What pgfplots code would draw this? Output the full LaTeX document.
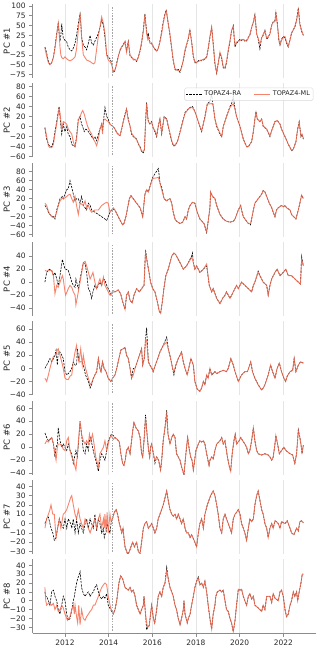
\documentclass[border=0pt]{standalone}
\usepackage{fontspec}
\setmainfont{DejaVu Sans}
\usepackage{pgfplots}
\usepackage{pgfplotstable}
\pgfplotsset{compat=1.18}

\definecolor{mlcol}{RGB}{246,110,84}
\definecolor{spine}{gray}{0.55}

% one table per principal component: time, reanalysis, ML
\pgfplotstableread{
t ra ml
2011.08 -5 -8
2011.16 -20 -28
2011.24 -42 -45
2011.31 -50 -50
2011.39 -45 -45
2011.47 -30 -32
2011.54 -5 -8
2011.62 30 25
2011.69 55 56
2011.73 30 35
2011.77 10 -5
2011.81 25 -25
2011.85 55 -32
2011.92 18 -35
2012.00 12 -30
2012.08 8 -35
2012.15 -5 -38
2012.23 -12 -40
2012.31 -15 -38
2012.38 -8 -35
2012.46 5 -30
2012.53 25 -10
2012.61 55 40
2012.69 80 80
2012.73 50 55
2012.76 20 20
2012.84 0 -25
2012.92 -5 -32
2012.99 -12 -38
2013.07 5 -40
2013.15 25 -42
2013.22 5 -45
2013.30 0 -48
2013.37 10 -45
2013.45 20 -10
2013.53 30 25
2013.60 45 45
2013.68 65 72
2013.76 50 55
2013.83 20 30
2013.91 -25 -25
2013.98 -30 -38
2014.06 -35 -42
2014.14 -45 -50
2014.21 -70 -68
2014.29 -65 -63
2014.37 -45 -48
2014.44 -28 -30
2014.52 -15 -12
2014.60 -5 -3
2014.67 2 0
2014.75 10 8
2014.82 -15 -18
2014.90 10 8
2014.98 -28 -25
2015.05 -32 -30
2015.13 -35 -38
2015.21 -38 -36
2015.28 -42 -40
2015.36 -30 -32
2015.44 -15 -12
2015.51 5 8
2015.59 40 35
2015.66 80 78
2015.74 35 30
2015.79 20 15
2015.82 28 20
2015.89 8 5
2015.97 5 3
2016.05 -5 -3
2016.12 -10 -12
2016.20 -15 -15
2016.27 -10 -8
2016.35 10 8
2016.43 35 30
2016.50 60 55
2016.58 80 78
2016.64 90 88
2016.73 55 55
2016.81 25 28
2016.89 -10 -8
2016.96 -40 -38
2017.04 -62 -60
2017.11 -65 -63
2017.19 -62 -65
2017.27 -70 -66
2017.34 -55 -58
2017.42 -40 -38
2017.50 -15 -12
2017.57 0 2
2017.65 15 18
2017.72 40 38
2017.80 10 8
2017.88 -30 -28
2017.95 -45 -42
2018.03 -45 -44
2018.11 -40 -42
2018.18 -38 -40
2018.26 -40 -38
2018.34 -38 -36
2018.41 -35 -35
2018.49 -30 -32
2018.56 -10 -8
2018.64 20 22
2018.72 45 46
2018.79 5 2
2018.87 -50 -45
2018.95 -72 -70
2019.02 -45 -48
2019.10 -20 -18
2019.18 -35 -32
2019.25 -58 -55
2019.33 -60 -58
2019.40 -45 -42
2019.48 -15 -12
2019.56 10 12
2019.63 35 38
2019.71 50 48
2019.75 20 22
2019.79 -5 0
2019.86 5 8
2019.94 10 10
2020.02 15 12
2020.09 12 14
2020.17 15 15
2020.24 10 12
2020.32 12 10
2020.40 20 18
2020.47 25 28
2020.55 45 45
2020.63 60 58
2020.70 78 75
2020.78 30 28
2020.85 15 18
2020.93 -10 2
2021.01 20 18
2021.08 25 28
2021.16 38 35
2021.24 15 18
2021.31 20 22
2021.39 30 28
2021.47 50 52
2021.54 60 58
2021.62 62 60
2021.66 85 82
2021.73 55 52
2021.80 10 15
2021.85 0 2
2021.92 15 12
2022.00 22 20
2022.08 18 22
2022.15 5 8
2022.23 -5 -2
2022.31 15 12
2022.38 30 32
2022.46 40 38
2022.53 45 48
2022.61 65 62
2022.69 95 90
2022.76 55 52
2022.84 35 38
2022.92 25 25
}\pcone

\pgfplotstableread{
t ra ml
2011.08 -3 -1
2011.16 -25 -20
2011.24 -35 -38
2011.31 -40 -42
2011.39 -40 -42
2011.47 -30 -35
2011.54 -10 -15
2011.62 10 5
2011.69 30 25
2011.73 40 35
2011.77 20 28
2011.85 -15 -5
2011.92 5 10
2012.00 -10 8
2012.08 0 5
2012.15 -15 -5
2012.23 -20 -10
2012.31 -35 -15
2012.38 -38 -30
2012.46 -40 -40
2012.53 -20 -25
2012.61 15 12
2012.69 20 20
2012.76 5 28
2012.81 0 32
2012.88 -10 25
2012.96 -5 12
2013.04 -8 0
2013.15 -15 -10
2013.22 -20 -15
2013.30 -25 -25
2013.37 -20 -30
2013.45 -28 -38
2013.53 -15 -25
2013.60 -5 -5
2013.68 5 5
2013.72 -10 -15
2013.76 10 12
2013.83 38 15
2013.91 20 12
2013.98 15 10
2014.06 5 5
2014.14 2 2
2014.21 0 0
2014.29 -5 -5
2014.37 -12 -12
2014.44 -15 -16
2014.52 -18 -18
2014.60 -5 -3
2014.67 10 10
2014.75 25 22
2014.82 35 35
2014.90 15 12
2014.98 0 2
2015.05 -15 -13
2015.13 -20 -18
2015.21 -22 -23
2015.28 -25 -26
2015.36 -35 -33
2015.44 -40 -42
2015.51 -50 -48
2015.59 -52 -50
2015.64 -45 -45
2015.69 10 5
2015.74 48 45
2015.79 20 18
2015.82 10 10
2015.89 5 6
2015.97 10 8
2016.05 -5 -3
2016.12 -10 -8
2016.20 -20 -18
2016.27 0 0
2016.35 15 15
2016.43 -15 -12
2016.54 20 18
2016.66 15 15
2016.73 0 2
2016.81 -15 -13
2016.89 -30 -28
2016.96 -38 -36
2017.04 -38 -37
2017.15 -30 -30
2017.27 -10 -12
2017.42 15 14
2017.50 28 26
2017.65 35 35
2017.73 38 37
2017.84 40 38
2017.95 30 30
2018.03 20 20
2018.18 0 0
2018.26 -10 -8
2018.41 20 18
2018.52 45 45
2018.64 50 45
2018.72 65 46
2018.79 40 42
2018.87 15 15
2018.95 0 2
2019.10 -15 -13
2019.18 -20 -20
2019.25 0 0
2019.40 20 20
2019.56 40 38
2019.63 45 42
2019.71 60 45
2019.79 35 35
2019.86 20 20
2020.02 0 0
2020.17 -25 -25
2020.32 -40 -40
2020.40 -40 -40
2020.55 -30 -30
2020.63 -10 -10
2020.70 15 15
2020.75 30 28
2020.81 15 15
2020.93 10 10
2021.01 15 15
2021.08 0 2
2021.24 -5 -5
2021.39 -20 -18
2021.47 -8 -8
2021.62 10 10
2021.73 12 12
2021.85 5 5
2021.92 -5 -5
2022.08 -20 -20
2022.23 -35 -35
2022.38 -48 -47
2022.46 -45 -45
2022.58 -30 -30
2022.66 -5 -5
2022.73 10 8
2022.81 -20 -18
2022.86 -15 -15
2022.92 -25 -23
}\pctwo

\pgfplotstableread{
t ra ml
2011.08 5 10
2011.16 0 5
2011.24 -10 -8
2011.31 -15 -15
2011.39 -18 -20
2011.47 -20 -22
2011.54 -25 -20
2011.62 -5 -10
2011.69 5 5
2011.77 20 15
2011.88 25 22
2011.92 20 20
2012.00 30 22
2012.08 40 25
2012.15 42 28
2012.23 60 30
2012.31 45 20
2012.38 30 12
2012.46 15 25
2012.53 20 5
2012.61 20 -15
2012.69 10 10
2012.76 25 8
2012.84 5 5
2012.92 0 15
2012.99 -5 0
2013.07 10 5
2013.15 5 -5
2013.22 -5 -10
2013.37 -10 -5
2013.53 -15 -5
2013.68 -20 5
2013.83 -25 10
2013.91 -28 12
2013.98 -20 10
2014.06 -10 -10
2014.14 -5 -5
2014.21 -3 0
2014.29 -5 -5
2014.44 -20 -20
2014.55 -30 -30
2014.64 -38 -38
2014.70 -35 -35
2014.79 -20 -20
2014.85 -5 -5
2014.95 20 20
2015.02 27 26
2015.13 20 20
2015.28 10 10
2015.44 0 0
2015.56 -20 -20
2015.66 30 28
2015.74 40 40
2015.82 35 35
2015.88 45 45
2016.00 65 63
2016.05 70 65
2016.28 87 67
2016.35 55 55
2016.43 45 40
2016.54 20 20
2016.66 15 15
2016.73 18 18
2016.81 20 20
2016.89 10 10
2016.96 -10 -10
2017.04 -25 -25
2017.11 -30 -30
2017.27 -35 -35
2017.39 -32 -32
2017.50 -20 -20
2017.57 -25 -25
2017.65 -5 -5
2017.73 5 5
2017.84 12 12
2017.95 10 10
2018.06 -10 -10
2018.18 -25 -25
2018.37 -35 -35
2018.46 -50 -50
2018.49 -55 -53
2018.56 -30 -30
2018.64 0 0
2018.67 35 35
2018.76 25 25
2018.87 20 20
2018.95 5 5
2019.10 -15 -15
2019.25 -25 -25
2019.40 -30 -30
2019.56 -32 -32
2019.71 -30 -30
2019.79 -25 -25
2019.94 -5 -5
2020.05 5 5
2020.09 -5 -5
2020.17 -20 -20
2020.32 -30 -30
2020.40 -35 -35
2020.50 -38 -35
2020.55 -25 -25
2020.63 -5 -5
2020.70 10 10
2020.85 20 20
2021.01 30 30
2021.08 38 38
2021.16 35 35
2021.24 25 25
2021.36 10 10
2021.47 0 0
2021.54 -10 -10
2021.62 -20 -20
2021.69 -5 -5
2021.77 0 0
2021.92 5 5
2022.00 2 2
2022.08 5 5
2022.15 0 0
2022.31 -5 -5
2022.38 -15 -15
2022.58 -25 -25
2022.69 -5 -5
2022.76 10 10
2022.84 28 28
2022.92 20 20
}\pcthree

\pgfplotstableread{
t ra ml
2011.08 0 18
2011.16 15 17
2011.28 20 18
2011.39 18 18
2011.47 10 10
2011.54 15 -18
2011.62 5 -5
2011.69 -5 -8
2011.77 10 0
2011.88 35 10
2011.92 30 5
2012.00 20 -15
2012.03 20 -20
2012.15 18 -10
2012.23 10 -5
2012.31 0 -8
2012.38 -5 -15
2012.46 -8 -20
2012.50 5 -35
2012.61 -10 -15
2012.69 5 0
2012.84 30 30
2012.92 28 32
2012.99 15 25
2013.07 -10 15
2013.15 -15 5
2013.22 -25 10
2013.28 -15 15
2013.37 -5 0
2013.45 -10 -10
2013.60 0 5
2013.68 -5 -5
2013.76 5 8
2013.83 3 -5
2013.91 -5 -10
2013.98 -10 -15
2014.06 -15 -20
2014.11 -20 -18
2014.21 -15 -13
2014.29 -15 -15
2014.44 -12 -12
2014.55 -18 -18
2014.64 -30 -30
2014.75 -42 -42
2014.82 -20 -20
2014.90 -15 -15
2014.98 -28 -28
2015.08 -32 -32
2015.16 -20 -20
2015.28 -10 -10
2015.41 -15 -15
2015.51 -10 -10
2015.62 -5 -5
2015.69 50 45
2015.77 30 30
2015.85 15 15
2015.92 0 0
2016.02 -10 -10
2016.12 -15 -15
2016.23 -30 -30
2016.32 -45 -45
2016.38 -48 -48
2016.46 -30 -30
2016.53 -10 -10
2016.62 10 10
2016.73 20 20
2016.81 30 30
2016.89 40 40
2016.99 45 45
2017.08 42 42
2017.19 35 35
2017.27 30 30
2017.42 20 20
2017.57 25 25
2017.80 40 38
2017.84 45 35
2017.88 30 30
2017.95 20 20
2018.03 25 25
2018.18 15 15
2018.34 20 20
2018.49 25 28
2018.61 -5 -5
2018.72 -15 -15
2018.79 -10 -10
2018.95 -25 -25
2019.10 -33 -33
2019.22 -25 -25
2019.33 -20 -20
2019.40 -15 -15
2019.56 -25 -25
2019.71 -15 -15
2019.86 -5 -5
2019.94 -10 -10
2020.09 0 0
2020.24 -5 -5
2020.40 -10 -10
2020.55 -15 -15
2020.63 -5 -5
2020.70 0 0
2020.85 17 15
2020.93 10 10
2021.08 0 0
2021.24 -5 -5
2021.31 -20 -20
2021.39 -5 -5
2021.47 5 5
2021.62 15 15
2021.72 20 20
2021.85 10 10
2022.00 15 15
2022.12 20 20
2022.23 10 10
2022.38 10 10
2022.53 5 5
2022.69 0 0
2022.79 -3 -3
2022.84 40 35
2022.92 25 25
}\pcfour

\pgfplotstableread{
t ra ml
2011.08 0 -15
2011.16 5 -20
2011.24 10 -10
2011.31 15 0
2011.39 10 10
2011.47 15 18
2011.54 20 20
2011.59 28 22
2011.65 5 28
2011.69 25 30
2011.77 25 20
2011.85 20 10
2011.92 15 0
2012.00 -5 -15
2012.08 -10 -17
2012.15 -8 -17
2012.23 -5 -12
2012.31 0 -10
2012.38 10 10
2012.46 5 25
2012.53 5 35
2012.57 30 20
2012.64 10 10
2012.72 10 30
2012.79 10 5
2012.84 5 20
2012.94 -10 0
2013.07 -20 -15
2013.15 -30 -25
2013.22 -25 -22
2013.30 -15 -15
2013.37 -10 -10
2013.45 -5 -5
2013.53 15 15
2013.60 0 0
2013.65 -5 -5
2013.72 10 10
2013.79 0 0
2013.88 -5 -5
2013.98 -15 -15
2014.10 -20 -20
2014.18 -15 -15
2014.29 -10 -10
2014.37 0 0
2014.47 15 15
2014.56 28 28
2014.67 30 30
2014.75 32 32
2014.82 20 20
2014.90 15 15
2014.98 0 0
2015.05 -15 -15
2015.13 0 -10
2015.21 0 0
2015.31 10 10
2015.51 30 30
2015.56 5 5
2015.63 15 15
2015.69 45 45
2015.74 62 42
2015.82 10 10
2015.89 5 5
2015.98 0 0
2016.04 -5 -5
2016.14 5 5
2016.25 15 15
2016.35 25 25
2016.50 35 35
2016.66 48 40
2016.73 30 30
2016.84 15 15
2016.93 0 0
2016.99 -10 -5
2017.08 5 5
2017.19 15 15
2017.27 20 20
2017.34 25 25
2017.42 10 10
2017.50 0 0
2017.60 -10 -10
2017.77 15 15
2017.88 5 5
2017.95 -20 -20
2018.06 -32 -32
2018.18 -35 -35
2018.26 -30 -30
2018.34 -20 -20
2018.41 -25 -25
2018.49 -10 -10
2018.56 -15 -15
2018.64 0 0
2018.72 -10 -10
2018.87 -5 -5
2018.95 -8 -8
2019.10 -5 -5
2019.25 -3 -3
2019.40 -5 -5
2019.48 0 0
2019.60 15 15
2019.71 5 5
2019.79 -5 -5
2019.94 -20 -20
2020.09 -10 -10
2020.24 -5 -5
2020.36 -5 -5
2020.51 10 10
2020.59 -5 -5
2020.70 -15 -15
2020.85 -25 -25
2021.01 -33 -33
2021.08 -30 -30
2021.16 -25 -25
2021.31 -10 -10
2021.42 5 5
2021.51 -5 -5
2021.62 -15 -15
2021.72 0 0
2021.82 8 8
2021.92 -5 -5
2022.03 -15 -15
2022.11 -20 -20
2022.18 -12 -12
2022.31 -5 -5
2022.43 -3 -3
2022.50 15 15
2022.58 -5 -5
2022.69 5 5
2022.79 10 10
2022.92 8 8
}\pcfive

\pgfplotstableread{
t ra ml
2011.08 22 5
2011.16 15 10
2011.24 10 8
2011.31 12 12
2011.39 15 15
2011.47 5 5
2011.54 -15 -10
2011.59 0 -20
2011.65 5 0
2011.69 30 5
2011.77 10 5
2011.85 0 3
2011.92 5 -3
2012.00 0 -5
2012.08 -5 10
2012.15 5 15
2012.23 -5 -5
2012.31 -10 -15
2012.38 -25 -20
2012.50 -5 -35
2012.57 -15 -10
2012.69 40 40
2012.76 20 20
2012.84 -5 10
2012.92 -10 5
2012.99 5 10
2013.07 -5 5
2013.12 10 20
2013.18 15 10
2013.26 0 20
2013.33 -10 5
2013.41 -20 -15
2013.53 -37 -30
2013.60 -20 -10
2013.68 -10 -5
2013.76 -15 0
2013.83 -20 10
2013.91 -5 -5
2013.98 10 5
2014.06 15 15
2014.12 20 18
2014.21 18 12
2014.29 15 15
2014.40 12 12
2014.49 8 8
2014.56 -10 -10
2014.64 -25 -25
2014.70 -28 -28
2014.76 -20 -20
2014.82 -5 -5
2014.90 0 0
2014.98 -10 -10
2015.05 10 10
2015.10 25 25
2015.16 38 38
2015.25 30 30
2015.36 25 25
2015.44 15 15
2015.51 -10 -10
2015.56 -15 -15
2015.62 10 10
2015.69 50 45
2015.76 20 20
2015.83 -5 -5
2015.88 -15 -15
2015.92 0 0
2015.97 5 5
2016.05 -10 -10
2016.12 -25 -20
2016.20 -15 -15
2016.29 -20 -20
2016.38 -35 -35
2016.43 -20 -20
2016.50 10 10
2016.58 30 30
2016.66 57 50
2016.72 20 20
2016.81 5 5
2016.89 15 15
2016.96 20 20
2017.04 15 15
2017.11 -10 -10
2017.19 -15 -15
2017.27 -20 -20
2017.34 -30 -30
2017.45 -43 -43
2017.51 -20 -20
2017.57 0 0
2017.62 15 15
2017.70 -5 -5
2017.76 -15 -15
2017.82 -20 -20
2017.88 -35 -35
2017.92 -25 -25
2018.00 -5 -5
2018.11 5 5
2018.18 10 10
2018.26 8 8
2018.34 10 10
2018.41 5 5
2018.49 -10 -10
2018.60 -28 -28
2018.64 -20 -20
2018.72 -15 -15
2018.79 -18 -18
2018.87 -5 -5
2018.95 5 5
2019.10 10 10
2019.18 15 15
2019.25 5 5
2019.33 10 10
2019.44 -15 -15
2019.53 -30 -30
2019.59 -37 -37
2019.66 -10 -10
2019.74 10 10
2019.80 20 20
2019.86 5 5
2019.98 10 10
2020.05 15 15
2020.14 10 10
2020.24 5 5
2020.32 0 0
2020.40 -10 -10
2020.47 -5 -5
2020.55 10 10
2020.63 30 30
2020.70 10 10
2020.78 -5 -5
2020.85 -10 -10
2021.01 -12 -12
2021.16 -10 -10
2021.31 -12 -12
2021.39 -15 -15
2021.47 -20 -20
2021.54 -15 -15
2021.62 5 5
2021.66 18 18
2021.74 5 5
2021.82 -10 -10
2021.92 -5 -5
2022.03 0 0
2022.12 -5 -5
2022.23 -8 -8
2022.31 -10 -10
2022.43 -12 -12
2022.53 -25 -25
2022.61 -10 -10
2022.69 27 25
2022.76 15 15
2022.81 5 5
2022.86 -10 -8
2022.92 3 3
}\pcsix

\pgfplotstableread{
t ra ml
2011.08 0 -5
2011.16 5 5
2011.24 7 10
2011.31 0 15
2011.36 -5 20
2011.44 -10 10
2011.51 -18 10
2011.59 -15 -15
2011.66 -5 -5
2011.74 5 5
2011.81 0 -5
2011.92 -5 10
2012.00 5 12
2012.08 -5 15
2012.15 5 20
2012.26 0 28
2012.31 -5 30
2012.38 5 20
2012.46 -10 10
2012.53 5 5
2012.61 -10 15
2012.69 0 5
2012.76 -5 0
2012.84 -10 -5
2012.92 0 5
2012.99 5 2
2013.07 -5 -5
2013.15 5 -10
2013.22 0 -5
2013.30 -5 0
2013.37 10 5
2013.45 -8 -5
2013.53 5 5
2013.60 0 10
2013.68 -10 -5
2013.76 -5 5
2013.80 -15 -5
2013.83 -12 10
2013.88 -10 -8
2013.93 0 12
2013.98 -5 -10
2014.06 -10 10
2014.11 0 2
2014.17 5 5
2014.26 12 12
2014.34 15 15
2014.41 10 10
2014.49 0 0
2014.55 -5 -5
2014.60 -10 -10
2014.66 -5 -5
2014.70 -15 -15
2014.75 -25 -25
2014.87 -33 -33
2014.95 -30 -30
2015.02 -25 -25
2015.10 -20 -20
2015.18 -25 -25
2015.28 -20 -20
2015.36 -30 -30
2015.44 -32 -32
2015.51 -20 -20
2015.59 -5 -5
2015.66 0 0
2015.74 2 2
2015.82 -5 -5
2015.89 -3 -3
2015.97 0 0
2016.05 -5 -5
2016.12 -10 -10
2016.20 -5 -5
2016.27 5 5
2016.35 10 10
2016.50 20 20
2016.66 35 35
2016.73 25 25
2016.81 15 15
2016.89 10 10
2016.96 8 8
2017.04 10 10
2017.11 5 5
2017.19 10 10
2017.27 5 5
2017.34 0 0
2017.42 5 5
2017.50 -5 -5
2017.57 -10 -10
2017.65 -10 -10
2017.73 -15 -15
2017.80 -12 -12
2017.95 -20 -20
2018.03 -25 -25
2018.11 -10 -10
2018.18 0 0
2018.26 5 5
2018.34 -5 -5
2018.41 10 10
2018.52 20 20
2018.67 30 30
2018.79 35 35
2018.87 30 30
2018.95 20 20
2019.02 10 10
2019.10 -5 -5
2019.18 -10 -10
2019.25 5 5
2019.33 10 10
2019.40 5 5
2019.48 0 0
2019.56 -5 -5
2019.63 -10 -10
2019.71 5 5
2019.79 10 10
2019.86 12 12
2019.94 15 15
2020.02 10 10
2020.09 0 0
2020.17 -5 -5
2020.24 -10 -10
2020.32 -18 -18
2020.40 -5 -5
2020.47 5 5
2020.55 2 2
2020.63 5 5
2020.70 20 20
2020.78 30 30
2020.85 35 35
2020.93 25 25
2021.01 15 15
2021.08 10 10
2021.16 0 0
2021.24 -5 -5
2021.31 -15 -15
2021.39 -5 -5
2021.47 0 0
2021.54 -5 -5
2021.62 3 3
2021.69 2 2
2021.77 0 0
2021.85 -5 -5
2021.92 2 2
2022.08 0 0
2022.18 3 3
2022.31 -5 -5
2022.38 -10 -10
2022.49 -12 -12
2022.61 -5 -5
2022.69 -8 -8
2022.76 2 2
2022.84 3 3
2022.92 1 1
}\pcseven

\pgfplotstableread{
t ra ml
2011.08 10 15
2011.12 5 0
2011.16 5 -5
2011.24 0 -3
2011.31 -5 -3
2011.39 10 -5
2011.47 12 -3
2011.54 5 -10
2011.62 0 -5
2011.69 -10 -12
2011.77 -15 -10
2011.85 -5 -5
2011.92 5 -8
2012.00 0 -15
2012.08 -15 -20
2012.12 -20 -22
2012.15 -22 -20
2012.23 -20 -18
2012.31 -10 -10
2012.38 0 -5
2012.43 5 -15
2012.46 10 -5
2012.53 20 -18
2012.58 25 -25
2012.63 28 -5
2012.69 33 -27
2012.76 15 -10
2012.84 8 -20
2012.92 5 -22
2012.99 8 -18
2013.07 10 -15
2013.15 5 -12
2013.22 8 -10
2013.30 10 -5
2013.37 15 -5
2013.45 18 0
2013.53 10 5
2013.60 5 10
2013.68 2 15
2013.76 5 18
2013.83 3 20
2013.91 8 18
2013.98 -5 5
2014.09 -10 -8
2014.21 -15 -15
2014.29 -10 -10
2014.37 0 0
2014.47 20 20
2014.55 28 28
2014.64 25 25
2014.75 15 15
2014.90 12 12
2014.98 15 15
2015.05 10 10
2015.13 12 12
2015.21 5 5
2015.28 -5 -5
2015.36 -10 -10
2015.44 -15 -15
2015.51 -10 -10
2015.59 -5 -5
2015.62 5 5
2015.69 -15 -15
2015.74 -33 -25
2015.79 -30 -30
2015.86 -28 -28
2015.92 -15 -15
2015.97 -5 -5
2016.05 -20 -20
2016.11 -25 -25
2016.20 -10 -10
2016.27 5 5
2016.35 10 10
2016.43 5 5
2016.50 15 15
2016.58 20 20
2016.66 38 33
2016.73 25 25
2016.81 15 15
2016.89 10 10
2016.96 5 5
2017.04 -5 -5
2017.11 -10 -10
2017.19 -20 -20
2017.27 -27 -27
2017.34 -20 -20
2017.42 -10 -10
2017.45 0 0
2017.50 -15 -15
2017.60 -25 -25
2017.65 -20 -20
2017.73 -15 -15
2017.80 -5 -5
2017.88 5 5
2017.95 15 15
2018.03 22 22
2018.11 27 25
2018.18 18 18
2018.26 20 20
2018.34 15 15
2018.41 22 22
2018.49 10 10
2018.56 -5 -5
2018.64 -20 -20
2018.72 -32 -32
2018.79 -15 -15
2018.87 -5 -5
2018.91 5 5
2018.98 10 10
2019.10 12 12
2019.18 10 10
2019.25 12 12
2019.33 0 0
2019.40 -10 -10
2019.48 -12 -12
2019.56 -20 -20
2019.63 -25 -25
2019.71 -35 -35
2019.79 -22 -22
2019.86 -5 -5
2019.94 13 13
2020.02 12 12
2020.09 13 13
2020.17 5 5
2020.24 0 0
2020.32 -5 -5
2020.40 5 5
2020.47 8 8
2020.55 2 2
2020.63 5 5
2020.70 -5 -5
2020.85 -8 -8
2021.01 -12 -12
2021.08 -5 -5
2021.16 -10 -10
2021.24 5 5
2021.39 5 5
2021.47 -2 -2
2021.54 8 8
2021.62 3 3
2021.77 0 0
2021.85 10 10
2021.92 12 12
2022.00 5 5
2022.08 -10 -10
2022.15 -18 -18
2022.23 -15 -15
2022.31 -5 -5
2022.38 0 0
2022.46 10 10
2022.53 5 5
2022.61 10 10
2022.66 0 0
2022.73 10 10
2022.81 20 20
2022.87 30 30
2022.92 30 30
}\pceight

\pgfplotsset{
  panel/.style={
    scale only axis, width=283.3bp, height=74bp,
    xmin=2010.52, xmax=2023.5,
    axis y line*=left, axis x line*=bottom,
    x axis line style={draw=none},
    y axis line style={spine, line width=0.6bp},
    xtick={2012,2014,...,2022}, xticklabels={},
    xtick style={draw=none},
    ytick style={spine, line width=0.6bp},
    tick align=outside, major tick length=3.5bp,
    xmajorgrids, major x grid style={black!10, line width=0.6bp},
    tick label style={font=\fontsize{7.5}{9}\selectfont, text=black!85},
    every axis y label/.style={at={(axis description cs:0,0.5)}, xshift=-26bp,
      rotate=90, anchor=center, font=\fontsize{8.5}{10}\selectfont, text=black!85},
  },
  ra/.style={black, line width=0.6bp, dash pattern=on 2.2bp off 1.1bp},
  ml/.style={mlcol, line width=0.9bp, opacity=0.85},
}

\newcommand{\splitline}{%
  \draw[black!35, line width=0.5bp, dash pattern=on 1.6bp off 1.2bp]
    ({axis cs:2014.17,0} |- {rel axis cs:0,0.03}) -- ({axis cs:2014.17,0} |- {rel axis cs:0,0.97});}

\begin{document}
\begin{tikzpicture}
\path[use as bounding box] (-32.7bp,4bp) rectangle (287.3bp,-642bp);

\begin{axis}[panel, at={(0bp,0bp)}, anchor=north west,
  ymin=-84, ymax=105, ytick={-75,-50,...,100},
  yticklabels={−75,−50,−25,0,25,50,75,100}, ylabel={PC \#1}]
\addplot[ra] table[x=t,y=ra]{\pcone};
\addplot[ml] table[x=t,y=ml]{\pcone};
\splitline
\end{axis}

\begin{axis}[panel, at={(0bp,-79.3bp)}, anchor=north west,
  ymin=-61, ymax=86, ytick={-60,-40,...,80},
  yticklabels={−60,−40,−20,0,20,40,60,80}, ylabel={PC \#2},
  legend columns=2,
  legend image code/.code={\draw[#1] (0bp,0bp) -- (16bp,0bp);},
  legend style={at={(0.9905,0.94)}, anchor=north east, draw=black!15,
    fill=white, fill opacity=0.8, text opacity=1, rounded corners=1.5bp,
    font=\fontsize{6.5}{7.5}\selectfont, text=black!85, inner sep=1.2bp,
    /tikz/every even column/.append style={column sep=11bp}}]
\addplot[ra, forget plot] table[x=t,y=ra]{\pctwo};
\addplot[ml, forget plot] table[x=t,y=ml]{\pctwo};
\addlegendimage{ra}
\addlegendentry{TOPAZ4-RA}
\addlegendimage{ml}
\addlegendentry{TOPAZ4-ML}
\splitline
\end{axis}

\begin{axis}[panel, at={(0bp,-158.6bp)}, anchor=north west,
  ymin=-64, ymax=100, ytick={-60,-40,...,80},
  yticklabels={−60,−40,−20,0,20,40,60,80}, ylabel={PC \#3}]
\addplot[ra] table[x=t,y=ra]{\pcthree};
\addplot[ml] table[x=t,y=ml]{\pcthree};
\splitline
\end{axis}

\begin{axis}[panel, at={(0bp,-237.9bp)}, anchor=north west,
  ymin=-52, ymax=62, ytick={-40,-20,...,40},
  yticklabels={−40,−20,0,20,40}, ylabel={PC \#4}]
\addplot[ra] table[x=t,y=ra]{\pcfour};
\addplot[ml] table[x=t,y=ml]{\pcfour};
\splitline
\end{axis}

\begin{axis}[panel, at={(0bp,-317.2bp)}, anchor=north west,
  ymin=-41, ymax=72, ytick={-40,-20,...,60},
  yticklabels={−40,−20,0,20,40,60}, ylabel={PC \#5}]
\addplot[ra] table[x=t,y=ra]{\pcfive};
\addplot[ml] table[x=t,y=ml]{\pcfive};
\splitline
\end{axis}

\begin{axis}[panel, at={(0bp,-396.5bp)}, anchor=north west,
  ymin=-42, ymax=72, ytick={-40,-20,...,60},
  yticklabels={−40,−20,0,20,40,60}, ylabel={PC \#6}]
\addplot[ra] table[x=t,y=ra]{\pcsix};
\addplot[ml] table[x=t,y=ml]{\pcsix};
\splitline
\end{axis}

\begin{axis}[panel, at={(0bp,-475.8bp)}, anchor=north west,
  ymin=-32.5, ymax=47, ytick={-30,-20,...,40},
  yticklabels={−30,−20,−10,0,10,20,30,40}, ylabel={PC \#7}]
\addplot[ra] table[x=t,y=ra]{\pcseven};
\addplot[ml] table[x=t,y=ml]{\pcseven};
\splitline
\end{axis}

\begin{axis}[panel, at={(0bp,-555.1bp)}, anchor=north west,
  ymin=-36.5, ymax=47, ytick={-30,-20,...,40},
  yticklabels={−30,−20,−10,0,10,20,30,40}, ylabel={PC \#8},
  x axis line style={draw=spine, line width=0.6bp},
  xtick style={draw=spine, line width=0.6bp},
  xticklabels={2012,2014,2016,2018,2020,2022}]
\addplot[ra] table[x=t,y=ra]{\pceight};
\addplot[ml] table[x=t,y=ml]{\pceight};
\splitline
\end{axis}
\end{tikzpicture}
\end{document}
